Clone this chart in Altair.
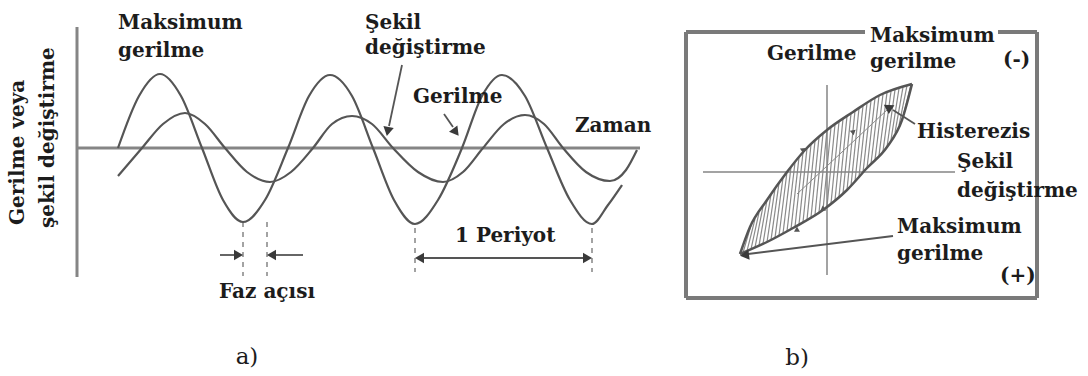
import altair as alt
import numpy as np
import pandas as pd

# ---------------- a) stress / strain against time ----------------
# time axis origin at the vertical axis, amplitude origin at the time axis
stress_t = [40, 61, 82, 103, 124, 145, 165, 187, 210, 231, 252, 274, 295, 316, 337,
            360, 384, 404, 424, 447, 469, 492, 514, 530, 544]
stress_v = [0, 52, 74, 52, 0, -52, -74, -52, 0, 52, 73, 52, 0, -52, -76,
            -52, 0, 52, 73, 52, 0, -52, -76, -57, -37]
strain_t = [40, 64, 85, 107, 127, 147, 169, 192, 213, 235, 254, 274, 294, 315, 340,
            365, 385, 405, 426, 447, 466, 485, 508, 532, 548, 559]
strain_v = [-28, 0, 24, 35, 24, 0, -24, -34, -24, 0, 24, 32, 24, 0, -24,
            -34, -24, 0, 24, 33, 24, 0, -24, -33, -22, -2]

# ---------------- b) hysteresis loop (strain vs stress) ----------------
loop_up_e = [-87, -77, -60, -40, -22, 0, 26, 53, 85]
loop_up_s = [-82, -55, -28, 0, 22, 42, 60, 77, 88]
loop_lo_e = [-87, -60, -34, -4, 20, 40, 60, 75, 85]
loop_lo_s = [-82, -70, -56, -38, -18, 4, 25, 52, 88]

CURVE = "#555555"
AXIS = "#858585"
INK = "#1c1c1c"
FONT = "DejaVu Serif"
FS = 20


def seg_df(rows):
    return pd.DataFrame(rows, columns=["x", "y", "x2", "y2"])


def head_df(rows):
    return pd.DataFrame(rows, columns=["x", "y", "a"])


def text_df(rows):
    return pd.DataFrame(rows, columns=["x", "y", "label"])


def make_panel(xs, ys, w, h, lines, rules, heads, texts):
    X = lambda: alt.X("x:Q", scale=xs, axis=None)
    Y = lambda: alt.Y("y:Q", scale=ys, axis=None)
    layers = []
    for df, kw in rules:
        layers.append(alt.Chart(df).mark_rule(**kw).encode(
            x=X(), y=Y(), x2="x2:Q", y2="y2:Q"))
    for df, kw in lines:
        layers.append(alt.Chart(df).mark_line(**kw).encode(
            x=X(), y=Y(), order="i:Q"))
    for df, kw in heads:
        layers.append(alt.Chart(df).mark_point(
            shape="triangle", filled=True, opacity=1, strokeWidth=0, **kw).encode(
            x=X(), y=Y(), angle=alt.Angle("a:Q", scale=None)))
    for df, kw in texts:
        layers.append(alt.Chart(df).mark_text(font=FONT, color=INK, **kw).encode(
            x=X(), y=Y(), text="label:N"))
    return alt.layer(*layers).properties(width=w, height=h)


def series(xv, yv):
    return pd.DataFrame({"x": xv, "y": yv, "i": range(len(xv))})


# ---- panel a ----
LX = alt.Scale(domain=[-78, 592], nice=False, zero=False)
LY = alt.Scale(domain=[-228, 148], nice=False, zero=False)

left = make_panel(
    LX, LY, 670, 376,
    lines=[
        (series(stress_t, stress_v), dict(color=CURVE, strokeWidth=2.2, interpolate="monotone")),
        (series(strain_t, strain_v), dict(color=CURVE, strokeWidth=2.2, interpolate="monotone")),
    ],
    rules=[
        (seg_df([[-1, 121, -1, -129], [-1, 0, 562, 0]]), dict(color=AXIS, strokeWidth=3)),
        (seg_df([[165, -74, 165, -128], [189, -74, 189, -128],
                 [337, -80, 337, -124], [514, -80, 514, -124]]),
         dict(color=AXIS, strokeWidth=1.5, strokeDash=[5, 5])),
        (seg_df([[142, -107, 158, -107], [225, -107, 196, -107], [340, -110, 511, -110],
                 [324, 83, 311, 22], [366, 34, 375, 21]]),
         dict(color=CURVE, strokeWidth=1.8)),
    ],
    heads=[
        (head_df([[159, -107, 90], [195, -107, 270], [343, -110, 270], [508, -110, 90],
                  [310, 18, 191], [377, 17, 143]]), dict(color="#3a3a3a", size=110)),
    ],
    texts=[
        (text_df([[40, 119, "Maksimum"], [40, 91, "gerilme"],
                  [287, 119, "Şekil"], [287, 94, "değiştirme"],
                  [335, 45, "Gerilme"], [497, 16, "Zaman"],
                  [377, -94, "1 Periyot"]]),
         dict(align="left", baseline="alphabetic", fontSize=FS, fontWeight="bold")),
        (text_df([[189, -150, "Faz açısı"]]),
         dict(align="center", baseline="alphabetic", fontSize=FS, fontWeight="bold")),
        (text_df([[-54, -77, "Gerilme veya"], [-24, -80, "şekil değiştirme"]]),
         dict(align="left", baseline="alphabetic", fontSize=FS, fontWeight="bold", angle=270)),
        (text_df([[169, -216, "a)"]]),
         dict(align="center", baseline="alphabetic", fontSize=23)),
    ],
)

# ---- panel b ----
RX = alt.Scale(domain=[-157, 261], nice=False, zero=False)
RY = alt.Scale(domain=[-204, 172], nice=False, zero=False)

# hatching across the loop, leaning from the lower branch up to the upper branch
hx = np.arange(-84, 80, 4)
hx2 = np.minimum(hx + 8, 85)
hatch = seg_df(np.column_stack([
    hx, np.interp(hx, loop_lo_e, loop_lo_s),
    hx2, np.interp(hx2, loop_up_e, loop_up_s),
]))

right = make_panel(
    RX, RY, 418, 376,
    lines=[
        (series(loop_up_e, loop_up_s), dict(color=CURVE, strokeWidth=2.5, interpolate="monotone")),
        (series(loop_lo_e, loop_lo_s), dict(color=CURVE, strokeWidth=2.5, interpolate="monotone")),
    ],
    rules=[
        (hatch, dict(color="#8a8a8a", strokeWidth=1.2)),
        (seg_df([[0, 87, 0, -103], [-124, 0, 128, 0]]), dict(color=AXIS, strokeWidth=1.5)),
        (seg_df([[-30, -22, 60, 62]]), dict(color="#8a8a8a", strokeWidth=1)),
        (seg_df([[-141, 140, -141, -126], [-141, -126, 210, -126], [210, -126, 210, 140],
                 [-141, 140, 38, 140], [171, 140, 210, 140]]),
         dict(color="#7a7a7a", strokeWidth=4)),
        (seg_df([[88, 48, 66, 62], [66, -64, -79, -82]]), dict(color=CURVE, strokeWidth=1.8)),
    ],
    heads=[
        (head_df([[62, 64, 302], [-81, -83, 263]]), dict(color="#3a3a3a", size=110)),
        (head_df([[-24, 22, 55], [26, 40, 50], [-30, -58, 240], [-4, -37, 235]]),
         dict(color="#555555", size=35)),
    ],
    texts=[
        (text_df([[-60, 112, "Gerilme"], [43, 130, "Maksimum"], [43, 104, "gerilme"],
                  [176, 106, "(-)"], [90, 34, "Histerezis"], [130, 4, "Şekil"],
                  [130, -25, "değiştirme"], [70, -61, "Maksimum"], [70, -88, "gerilme"],
                  [173, -110, "(+)"]]),
         dict(align="left", baseline="alphabetic", fontSize=FS, fontWeight="bold")),
        (text_df([[-30, -193, "b)"]]),
         dict(align="center", baseline="alphabetic", fontSize=23)),
    ],
)

chart = alt.hconcat(left, right, spacing=0).properties(
    padding=0, background="white"
).configure_view(strokeWidth=0)

chart.save("out.html", embed_options={"renderer": "svg", "actions": False})
